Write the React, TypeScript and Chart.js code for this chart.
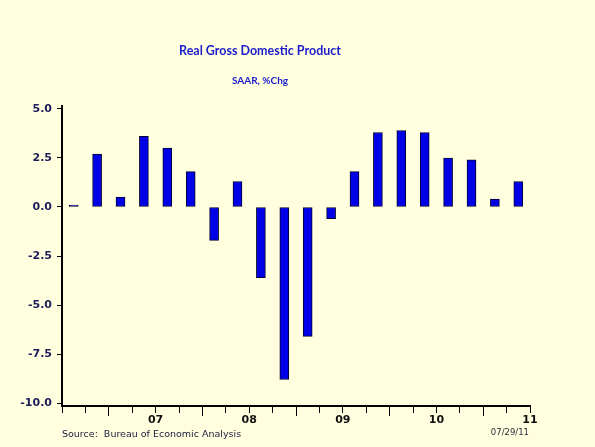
import React, { useEffect, useRef } from "react";
import { Chart, registerables } from "chart.js";

Chart.register(...registerables);

// Quarters shown (one bar each), 2006Q3 .. 2011Q2
const quarters = [
  "2006Q3", "2006Q4",
  "2007Q1", "2007Q2", "2007Q3", "2007Q4",
  "2008Q1", "2008Q2", "2008Q3", "2008Q4",
  "2009Q1", "2009Q2", "2009Q3", "2009Q4",
  "2010Q1", "2010Q2", "2010Q3", "2010Q4",
  "2011Q1", "2011Q2",
];

// Real GDP, SAAR % change
const gdpChange = [
  0.1, 2.7,
  0.5, 3.6, 3.0, 1.8,
  -1.7, 1.3, -3.6, -8.8,
  -6.6, -0.6, 1.8, 3.8,
  3.9, 3.8, 2.5, 2.4,
  0.4, 1.3,
];

// Year labels, centred under each year (first at the middle of 2007)
const yearLabels = ["07", "08", "09", "10", "11"];
const firstYearCenter = 4; // quarter boundary index of mid-2007
const firstYearStart = 2; // quarter boundary index of 2007Q1

const yTickValues = [-10, -7.5, -5, -2.5, 0, 2.5, 5];

const titleText = "Real Gross Domestic Product";
const subtitleText = "SAAR, %Chg";
const sourceText = "Source:  Bureau of Economic Analysis";
const dateText = "07/29/11";

const BG = "#FFFFE0";

const textPlugin = {
  id: "chartTexts",
  afterDraw(chart: any) {
    const ctx = chart.ctx;
    ctx.save();
    ctx.textBaseline = "middle";
    ctx.textAlign = "center";
    ctx.fillStyle = "#1c1ccc";
    ctx.font = "bold 12.5px Lato";
    ctx.fillText(titleText, 260, 51);
    ctx.font = "bold 10px Lato";
    ctx.fillText(subtitleText, 260, 81);
    ctx.textAlign = "left";
    ctx.fillStyle = "#1a1a3a";
    ctx.font = "9.5px 'DejaVu Sans'";
    ctx.fillText(sourceText, 62, 435);
    ctx.textAlign = "right";
    ctx.font = "8.5px 'DejaVu Sans'";
    ctx.fillStyle = "#2a2a3a";
    ctx.fillText(dateText, 529, 433);
    ctx.restore();
  },
};

export default function App() {
  const ref = useRef<HTMLCanvasElement | null>(null);

  useEffect(() => {
    if (!ref.current) return;
    const points = gdpChange.map((v, i) => ({ x: i + 0.5, y: v }));
    const chart = new Chart(ref.current, {
      type: "bar",
      data: {
        labels: quarters,
        datasets: [
          {
            label: "Real GDP",
            data: points as any,
            backgroundColor: "#0000E6",
            borderColor: "#00002E",
            borderWidth: 1,
            borderSkipped: false,
            barThickness: 9,
          },
        ],
      },
      options: {
        animation: false,
        responsive: false,
        layout: { padding: { top: 106, right: 65, bottom: 0, left: 0 } },
        plugins: {
          legend: { display: false },
          tooltip: { enabled: false },
          title: { display: false },
        },
        scales: {
          x: {
            type: "linear",
            offset: false,
            min: 0,
            max: quarters.length,
            afterFit: (s: any) => {
              s.height = 41;
            },
            border: { display: true, color: "#000", width: 2 },
            grid: {
              offset: false,
              drawOnChartArea: false,
              drawTicks: true,
              tickLength: 10,
              tickColor: "#000",
              tickWidth: 1,
              tickBorderDash: (c: any) => {
                const v = c.tick ? c.tick.value : 0;
                return (v - firstYearStart) % 4 === 0 && v >= firstYearStart ? [] : [6, 20];
              },
            },
            ticks: {
              stepSize: 1,
              autoSkip: false,
              maxRotation: 0,
              padding: -2,
              color: "#111",
              font: { family: "'DejaVu Sans'", size: 11, weight: "bold" },
              callback: (v: any) => {
                const k = (Number(v) - firstYearCenter) / 4;
                return Number.isInteger(k) && k >= 0 && k < yearLabels.length ? yearLabels[k] : "";
              },
            },
          },
          y: {
            min: -10.15,
            max: 5.15,
            afterBuildTicks: (s: any) => {
              s.ticks = yTickValues.map((v) => ({ value: v }));
            },
            afterFit: (s: any) => {
              s.width = 62;
            },
            border: { display: true, color: "#000", width: 2 },
            grid: {
              drawOnChartArea: false,
              drawTicks: true,
              tickLength: 5,
              tickColor: "#000",
              tickWidth: 1,
            },
            ticks: {
              padding: 5,
              color: "#1c1c5a",
              font: { family: "'DejaVu Sans'", size: 11, weight: "bold" },
              callback: (v: any) => Number(v).toFixed(1),
            },
          },
        },
      },
      plugins: [textPlugin],
    });
    return () => chart.destroy();
  }, []);

  return (
    <div
      style={{
        position: "absolute",
        left: 0,
        top: 0,
        width: 595,
        height: 447,
        background: BG,
      }}
    >
      <canvas ref={ref} width={595} height={447} style={{ display: "block" }} />
    </div>
  );
}
